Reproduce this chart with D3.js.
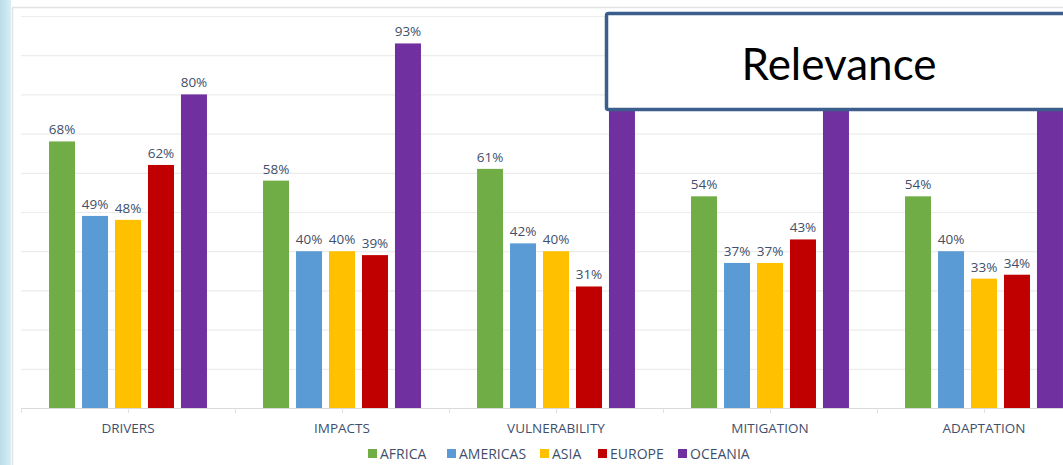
<!DOCTYPE html>
<html>
<head>
<meta charset="utf-8">
<script src="https://cdn.jsdelivr.net/npm/d3@7"></script>
<style>
  body { margin: 0; background: #fff; }
  svg { display: block; font-family: "Open Sans", Lato, sans-serif; }
</style>
</head>
<body>
<div class="chart"></div>
<script>
var svgWidth = 1063;
var svgHeight = 465;

// data
var categories = ["DRIVERS", "IMPACTS", "VULNERABILITY", "MITIGATION", "ADAPTATION"];
var regions = ["AFRICA", "AMERICAS", "ASIA", "EUROPE", "OCEANIA"];
var colors = ["#70ad47", "#5b9bd5", "#ffc000", "#c00000", "#7030a0"];
var africa = [68, 58, 61, 54, 54];
var americas = [49, 40, 42, 37, 40];
var asia = [48, 40, 40, 37, 33];
var europe = [62, 39, 31, 43, 34];
// last three oceania values are hidden behind the title box (estimated)
var oceania = [80, 93, 86, 84, 88];
var oceaniaShown = [true, true, false, false, false];
var yTicks = [0, 10, 20, 30, 40, 50, 60, 70, 80, 90, 100];

var series = [africa, americas, asia, europe, oceania];

var svg = d3.select(".chart")
    .append("svg")
    .attr("width", svgWidth)
    .attr("height", svgHeight);

// light blue strip on the left
var grad = svg.append("defs").append("linearGradient")
    .attr("id", "strip")
    .attr("x1", "0").attr("x2", "1").attr("y1", "0").attr("y2", "0");
grad.append("stop").attr("offset", "0%").attr("stop-color", "#b9dde8");
grad.append("stop").attr("offset", "100%").attr("stop-color", "#d9eef4");

svg.append("rect")
    .attr("x", 0).attr("y", 0)
    .attr("width", 11).attr("height", svgHeight)
    .attr("fill", "url(#strip)");

// chart panel border
svg.append("rect")
    .attr("x", 12.5).attr("y", 7.5)
    .attr("width", svgWidth).attr("height", svgHeight)
    .attr("fill", "#fff")
    .attr("stroke", "#e3e3e3")
    .attr("stroke-width", 1.5);

var x0 = d3.scaleBand()
    .domain(categories)
    .range([21, 21 + 214 * 5]);

var x1 = d3.scaleBand()
    .domain(regions)
    .range([0, x0.bandwidth()])
    .paddingInner(0.212)
    .paddingOuter(0.85);

var y = d3.scaleLinear()
    .domain([0, 100])
    .range([408, 16]);

// gridlines
svg.append("g")
    .selectAll("line")
    .data(yTicks.slice(1))
    .enter()
    .append("line")
    .attr("x1", 21)
    .attr("x2", svgWidth)
    .attr("y1", d => y(d) + 0.5)
    .attr("y2", d => y(d) + 0.5)
    .attr("stroke", "#ececec")
    .attr("stroke-width", 1.2);

// baseline + ticks
svg.append("line")
    .attr("x1", 21).attr("x2", svgWidth)
    .attr("y1", y(0) + 0.5).attr("y2", y(0) + 0.5)
    .attr("stroke", "#d9d9d9");

var tickPos = [];
categories.forEach(function (c) {
    tickPos.push(x0(c));
    tickPos.push(x0(c) + x0.bandwidth() / 2);
});
svg.append("g")
    .selectAll("line")
    .data(tickPos)
    .enter()
    .append("line")
    .attr("x1", d => d + 0.5).attr("x2", d => d + 0.5)
    .attr("y1", y(0)).attr("y2", y(0) + 5)
    .attr("stroke", "#e0e0e0");

// bars
var groups = svg.append("g")
    .selectAll("g")
    .data(categories)
    .enter()
    .append("g")
    .attr("transform", d => `translate(${x0(d)}, 0)`);

groups.selectAll("rect")
    .data((c, i) => regions.map((r, j) => ({ region: r, value: series[j][i], color: colors[j] })))
    .enter()
    .append("rect")
    .attr("x", d => x1(d.region))
    .attr("y", d => y(d.value))
    .attr("width", x1.bandwidth())
    .attr("height", d => y(0) - y(d.value))
    .attr("fill", d => d.color);

// value labels (the ones under the title box are not visible)
groups.selectAll("text")
    .data((c, i) => regions.map((r, j) => ({ region: r, value: series[j][i], shown: j < 4 || oceaniaShown[i] }))
        .filter(d => d.shown))
    .enter()
    .append("text")
    .attr("x", d => x1(d.region) + x1.bandwidth() / 2)
    .attr("y", d => y(d.value) - 7)
    .attr("text-anchor", "middle")
    .attr("font-size", "13.5px")
    .attr("fill", "#3f4f6b")
    .text(d => d.value + "%");

// category labels
svg.append("g")
    .selectAll("text")
    .data(categories)
    .enter()
    .append("text")
    .attr("x", d => x0(d) + x0.bandwidth() / 2)
    .attr("y", 433)
    .attr("text-anchor", "middle")
    .attr("font-size", "13.5px")
    .attr("fill", "#3f4f6b")
    .text(d => d);

// legend
var legendX = [368, 447, 540, 598, 678];
var legend = svg.append("g")
    .selectAll("g")
    .data(regions)
    .enter()
    .append("g")
    .attr("transform", (d, i) => `translate(${legendX[i]}, 449)`);

legend.append("rect")
    .attr("width", 9).attr("height", 9)
    .attr("fill", (d, i) => colors[i]);

legend.append("text")
    .attr("x", 12)
    .attr("y", 9.5)
    .attr("font-size", "14px")
    .attr("fill", "#3f4f6b")
    .text(d => d);

// title box
svg.append("rect")
    .attr("x", 606.5).attr("y", 13.5)
    .attr("width", 470).attr("height", 96)
    .attr("rx", 2)
    .attr("fill", "#fff")
    .attr("stroke", "#3b5e8c")
    .attr("stroke-width", 3.5);

svg.append("text")
    .attr("x", 839)
    .attr("y", 80)
    .attr("text-anchor", "middle")
    .attr("font-family", "Lato, sans-serif")
    .attr("font-size", "44px")
    .attr("fill", "#000")
    .text("Relevance");
</script>
</body>
</html>
